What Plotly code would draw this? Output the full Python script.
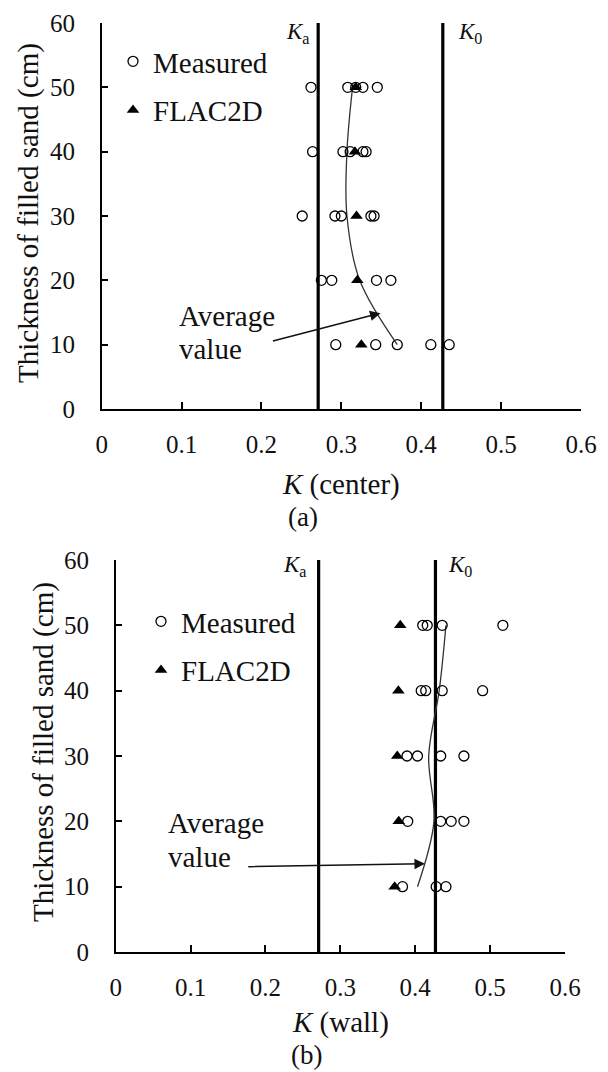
import plotly.graph_objects as go

W, H = 608, 1072
FONT = "Liberation Serif, 'Times New Roman', Times, serif"

# ---------------- data ----------------
depth_levels = [10, 20, 30, 40, 50]
limit_depth = [0, 60]
K_a = 0.271
K_0 = 0.427

# Panel (a): K at center
meas_a_depth = [50, 50, 50, 50, 50,
                40, 40, 40, 40, 40,
                30, 30, 30, 30, 30,
                20, 20, 20, 20,
                10, 10, 10, 10, 10]
meas_a_k = [0.262, 0.308, 0.318, 0.327, 0.345,
            0.264, 0.302, 0.311, 0.327, 0.331,
            0.251, 0.292, 0.300, 0.337, 0.341,
            0.275, 0.288, 0.344, 0.362,
            0.293, 0.343, 0.370, 0.412, 0.435]
flac_a_k = [0.325, 0.320, 0.319, 0.317, 0.318]
avg_a_k = [0.370, 0.323, 0.307, 0.307, 0.314]

# Panel (b): K at wall
meas_b_depth = [50, 50, 50, 50,
                40, 40, 40, 40,
                30, 30, 30, 30,
                20, 20, 20, 20,
                10, 10, 10]
meas_b_k = [0.410, 0.416, 0.436, 0.517,
            0.408, 0.414, 0.436, 0.490,
            0.389, 0.403, 0.434, 0.465,
            0.390, 0.434, 0.448, 0.465,
            0.383, 0.428, 0.441]
flac_b_k = [0.3725, 0.378, 0.376, 0.3775, 0.380]
avg_b_k = [0.403, 0.425, 0.418, 0.432, 0.441]

x_tickvals = [0, 0.1, 0.2, 0.3, 0.4, 0.5, 0.6]
x_ticktext = ["0", "0.1", "0.2", "0.3", "0.4", "0.5", "0.6"]
y_tickvals = [0, 10, 20, 30, 40, 50, 60]
y_ticktext = ["0", "10", "20", "30", "40", "50", "60"]

# ---------------- figure ----------------
def px(x, y):
    return x / W, 1 - y / H

fig = go.Figure()

panels = [
    dict(xa="x", ya="y", leg="legend", meas_d=meas_a_depth, meas_k=meas_a_k,
         flac=flac_a_k, avg=avg_a_k),
    dict(xa="x2", ya="y2", leg="legend2", meas_d=meas_b_depth, meas_k=meas_b_k,
         flac=flac_b_k, avg=avg_b_k),
]

for p in panels:
    for kv in (K_a, K_0):
        fig.add_trace(go.Scatter(x=[kv, kv], y=limit_depth, mode="lines",
                                 line=dict(color="black", width=3.2),
                                 xaxis=p["xa"], yaxis=p["ya"], showlegend=False,
                                 hoverinfo="skip"))
    fig.add_trace(go.Scatter(x=p["avg"], y=depth_levels, mode="lines",
                             line=dict(color="#333333", width=1.3, shape="spline", smoothing=1.0),
                             xaxis=p["xa"], yaxis=p["ya"], showlegend=False))
    fig.add_trace(go.Scatter(x=p["meas_k"], y=p["meas_d"], mode="markers", name="Measured",
                             marker=dict(symbol="circle-open", size=10, color="black",
                                         line=dict(color="black", width=1.3)),
                             xaxis=p["xa"], yaxis=p["ya"], legend=p["leg"],
                             legendgroup=p["leg"] + "m"))
    fig.add_trace(go.Scatter(x=p["flac"], y=depth_levels, mode="markers", name="FLAC2D",
                             marker=dict(symbol="triangle-up", size=11, color="black"),
                             xaxis=p["xa"], yaxis=p["ya"], legend=p["leg"],
                             legendgroup=p["leg"] + "f"))

axis_common = dict(
    showgrid=False, zeroline=False, showline=True, linecolor="black", linewidth=1.5,
    ticks="inside", ticklen=7, tickwidth=1.5, tickcolor="black", automargin=False,
    tickfont=dict(family=FONT, size=25, color="#111111"),
)

fig.update_layout(
    template="none",
    width=W, height=H, autosize=False,
    margin=dict(l=0, r=0, t=0, b=0, pad=0, autoexpand=False),
    paper_bgcolor="white", plot_bgcolor="white",
    font=dict(family=FONT, color="#111111"),
    xaxis=dict(domain=[101.7 / W, 581 / W], range=[0, 0.6], anchor="y",
               tickvals=x_tickvals, ticktext=x_ticktext, ticklabelstandoff=12, **axis_common),
    yaxis=dict(domain=[1 - 409 / H, 1 - 23 / H], range=[0, 60], anchor="x",
               tickvals=y_tickvals, ticktext=y_ticktext, ticklabelstandoff=20, **axis_common),
    xaxis2=dict(domain=[115.7 / W, 565 / W], range=[0, 0.6], anchor="y2",
                tickvals=x_tickvals, ticktext=x_ticktext, ticklabelstandoff=12, **axis_common),
    yaxis2=dict(domain=[1 - 952 / H, 1 - 560 / H], range=[0, 60], anchor="x2",
                tickvals=y_tickvals, ticktext=y_ticktext, ticklabelstandoff=20, **axis_common),
    legend=dict(x=113 / W, y=1 - 36 / H, xanchor="left", yanchor="top",
                font=dict(family=FONT, size=29, color="#111111"),
                bgcolor="rgba(0,0,0,0)", borderwidth=0, tracegroupgap=8, traceorder="grouped"),
    legend2=dict(x=141 / W, y=1 - 596 / H, xanchor="left", yanchor="top",
                 font=dict(family=FONT, size=29, color="#111111"),
                 bgcolor="rgba(0,0,0,0)", borderwidth=0, tracegroupgap=8, traceorder="grouped"),
)

ann = []
def text_px(t, x, y, size=29, xanchor="center", yanchor="middle", angle=0):
    xp, yp = px(x, y)
    ann.append(dict(text=t, x=xp, y=yp, xref="paper", yref="paper", showarrow=False,
                    xanchor=xanchor, yanchor=yanchor, textangle=angle,
                    font=dict(family=FONT, size=size, color="#111111")))

# y-axis titles
text_px("Thickness of filled sand (cm)", 29, 213, angle=-90)
text_px("Thickness of filled sand (cm)", 43, 752, angle=-90)
# x-axis titles and panel labels
text_px("<i>K</i> (center)", 341, 484)
text_px("(a)", 303, 517, size=27)
text_px("<i>K</i> (wall)", 340, 1022)
text_px("(b)", 306, 1055, size=27)
# K labels
text_px("<i>K</i><sub>a</sub>", 312, 33, size=23, xanchor="right")
text_px("<i>K</i><sub>0</sub>", 456, 33, size=23, xanchor="left")
text_px("<i>K</i><sub>a</sub>", 309, 566, size=23, xanchor="right")
text_px("<i>K</i><sub>0</sub>", 446, 566, size=23, xanchor="left")
# Average value text
text_px("Average", 177, 316, xanchor="left")
text_px("value", 177, 349, xanchor="left")
text_px("Average", 166, 823, xanchor="left")
text_px("value", 166, 857, xanchor="left")

# arrows (data coordinates)
ann.append(dict(x=0.349, y=14.9, ax=0.2125, ay=10.5, xref="x", yref="y", axref="x", ayref="y",
                text="", showarrow=True, arrowhead=2, arrowsize=1.4, arrowwidth=1.5,
                arrowcolor="#111111"))
ann.append(dict(x=0.413, y=13.5, ax=0.175, ay=13.06, xref="x2", yref="y2", axref="x2", ayref="y2",
                text="", showarrow=True, arrowhead=2, arrowsize=1.4, arrowwidth=1.5,
                arrowcolor="#111111"))

fig.update_layout(annotations=ann)
fig.write_html("out.html", config={"displayModeBar": False},
               post_script="document.body.style.margin='0px';")
